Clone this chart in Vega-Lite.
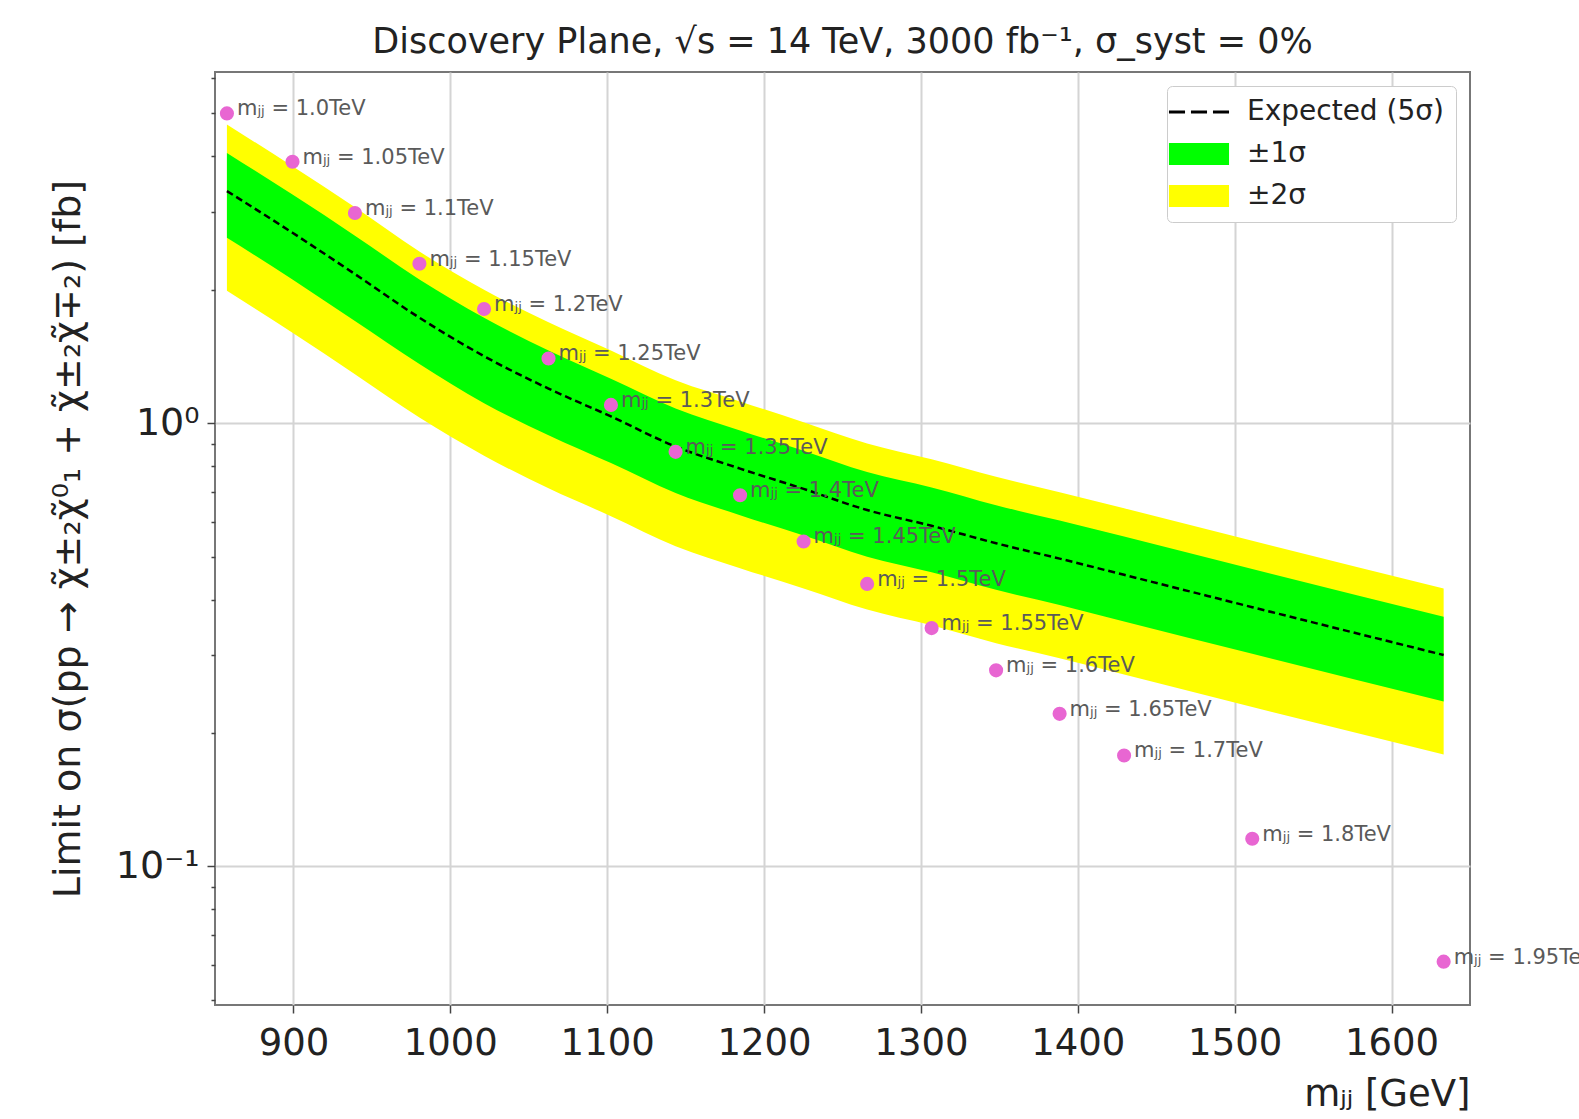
{
  "$schema": "https://vega.github.io/schema/vega-lite/v6.json",
  "autosize": {"type": "none"},
  "padding": {"left": 215, "top": 72, "right": 109, "bottom": 114},
  "width": 1255,
  "height": 933,
  "background": "white",
  "title": {
    "text": "Discovery Plane, √s = 14 TeV, 3000 fb⁻¹, σ_syst = 0%",
    "fontSize": 35,
    "fontWeight": "normal",
    "font": "DejaVu Sans",
    "color": "#222",
    "offset": 12
  },
  "config": {
    "font": "DejaVu Sans",
    "view": {"stroke": "#777", "strokeWidth": 2},
    "axis": {
      "labelFont": "DejaVu Sans",
      "titleFont": "DejaVu Sans",
      "labelColor": "#222",
      "titleColor": "#222",
      "titleFontWeight": "normal",
      "domain": false,
      "tickColor": "#444",
      "tickWidth": 1.5,
      "gridColor": "#d4d4d4",
      "gridWidth": 2
    }
  },
  "datasets": {
    "band": [
      {"x": 857.6, "yt": 4.72, "gt": 4.07, "line": 3.34, "gb": 2.62, "yb": 1.99},
      {"x": 899.4, "yt": 3.80, "gt": 3.28, "line": 2.69, "gb": 2.11, "yb": 1.60},
      {"x": 939.2, "yt": 3.07, "gt": 2.65, "line": 2.17, "gb": 1.70, "yb": 1.29},
      {"x": 980.3, "yt": 2.44, "gt": 2.11, "line": 1.73, "gb": 1.36, "yb": 1.03},
      {"x": 1021.5, "yt": 2.00, "gt": 1.73, "line": 1.417, "gb": 1.11, "yb": 0.845},
      {"x": 1062.6, "yt": 1.69, "gt": 1.46, "line": 1.197, "gb": 0.940, "yb": 0.713},
      {"x": 1102.4, "yt": 1.46, "gt": 1.26, "line": 1.036, "gb": 0.813, "yb": 0.617},
      {"x": 1143.6, "yt": 1.25, "gt": 1.08, "line": 0.886, "gb": 0.696, "yb": 0.528},
      {"x": 1184.7, "yt": 1.12, "gt": 0.963, "line": 0.790, "gb": 0.620, "yb": 0.471},
      {"x": 1225.2, "yt": 1.005, "gt": 0.867, "line": 0.711, "gb": 0.558, "yb": 0.424},
      {"x": 1265.7, "yt": 0.900, "gt": 0.776, "line": 0.637, "gb": 0.500, "yb": 0.380},
      {"x": 1306.8, "yt": 0.829, "gt": 0.716, "line": 0.587, "gb": 0.461, "yb": 0.350},
      {"x": 1347.9, "yt": 0.757, "gt": 0.653, "line": 0.536, "gb": 0.421, "yb": 0.319},
      {"x": 1388.4, "yt": 0.699, "gt": 0.603, "line": 0.495, "gb": 0.389, "yb": 0.295},
      {"x": 1429.5, "yt": 0.643, "gt": 0.555, "line": 0.455, "gb": 0.357, "yb": 0.271},
      {"x": 1511.2, "yt": 0.543, "gt": 0.469, "line": 0.3846, "gb": 0.302, "yb": 0.229},
      {"x": 1633.2, "yt": 0.424, "gt": 0.366, "line": 0.300, "gb": 0.2355, "yb": 0.179}
    ],
    "signal": [
      {"x": 857.6, "y": 5.00, "label": "mⱼⱼ = 1.0TeV"},
      {"x": 899.4, "y": 3.89, "label": "mⱼⱼ = 1.05TeV"},
      {"x": 939.2, "y": 2.98, "label": "mⱼⱼ = 1.1TeV"},
      {"x": 980.3, "y": 2.29, "label": "mⱼⱼ = 1.15TeV"},
      {"x": 1021.5, "y": 1.81, "label": "mⱼⱼ = 1.2TeV"},
      {"x": 1062.6, "y": 1.40, "label": "mⱼⱼ = 1.25TeV"},
      {"x": 1102.4, "y": 1.10, "label": "mⱼⱼ = 1.3TeV"},
      {"x": 1143.6, "y": 0.862, "label": "mⱼⱼ = 1.35TeV"},
      {"x": 1184.7, "y": 0.688, "label": "mⱼⱼ = 1.4TeV"},
      {"x": 1225.2, "y": 0.541, "label": "mⱼⱼ = 1.45TeV"},
      {"x": 1265.7, "y": 0.434, "label": "mⱼⱼ = 1.5TeV"},
      {"x": 1306.8, "y": 0.345, "label": "mⱼⱼ = 1.55TeV"},
      {"x": 1347.9, "y": 0.277, "label": "mⱼⱼ = 1.6TeV"},
      {"x": 1388.4, "y": 0.221, "label": "mⱼⱼ = 1.65TeV"},
      {"x": 1429.5, "y": 0.178, "label": "mⱼⱼ = 1.7TeV"},
      {"x": 1511.2, "y": 0.1155, "label": "mⱼⱼ = 1.8TeV"},
      {"x": 1633.2, "y": 0.0610, "label": "mⱼⱼ = 1.95TeV"}
    ],
    "legendItems": [
      {"series": "Expected (5σ)"},
      {"series": "±1σ"},
      {"series": "±2σ"}
    ]
  },
  "encoding": {
    "x": {
      "field": "x",
      "type": "quantitative",
      "scale": {"domain": [850, 1650], "nice": false, "zero": false},
      "axis": {
        "values": [900, 1000, 1100, 1200, 1300, 1400, 1500, 1600],
        "format": "d",
        "labelFontSize": 37,
        "labelPadding": 12,
        "tickSize": 8,
        "title": "mⱼⱼ [GeV]",
        "titleFontSize": 37,
        "titleAnchor": "end",
        "titlePadding": 15
      }
    }
  },
  "layer": [
    {
      "data": {"name": "band"},
      "mark": {"type": "area", "opacity": 1, "interpolate": "monotone", "color": "#ffff00"},
      "encoding": {
        "y": {
          "field": "yb",
          "type": "quantitative",
          "scale": {"type": "log", "domain": [0.0487, 6.2], "nice": false},
          "axis": {
            "values": [0.05, 0.06, 0.07, 0.08, 0.09, 0.1, 0.2, 0.3, 0.4, 0.5, 0.6, 0.7, 0.8, 0.9, 1, 2, 3, 4, 5, 6],
            "labelExpr": "datum.value == 1 ? '10⁰' : (datum.value == 0.1 ? '10⁻¹' : '')",
            "labelFontSize": 38,
            "labelPadding": 8,
            "tickSize": {"condition": {"test": "datum.value == 1 || datum.value == 0.1", "value": 8}, "value": 4},
            "gridOpacity": {"condition": {"test": "datum.value == 1 || datum.value == 0.1", "value": 1}, "value": 0},
            "title": "Limit on σ(pp → χ̃±₂χ̃⁰₁ + χ̃±₂χ̃∓₂) [fb]",
            "titleFontSize": 38,
            "titlePadding": 28
          }
        },
        "y2": {"field": "yt"}
      }
    },
    {
      "data": {"name": "band"},
      "mark": {"type": "area", "opacity": 1, "interpolate": "monotone", "color": "#00ff00"},
      "encoding": {
        "y": {"field": "gb", "type": "quantitative"},
        "y2": {"field": "gt"}
      }
    },
    {
      "data": {"name": "band"},
      "mark": {"type": "line", "strokeDash": [7, 4], "strokeWidth": 2.5, "interpolate": "monotone", "color": "#000000"},
      "encoding": {
        "y": {"field": "line", "type": "quantitative"}
      }
    },
    {
      "data": {"name": "signal"},
      "mark": {"type": "point", "filled": true, "shape": "circle", "size": 200, "color": "#e866d2", "opacity": 1},
      "encoding": {
        "y": {"field": "y", "type": "quantitative"}
      }
    },
    {
      "data": {"name": "signal"},
      "mark": {"type": "text", "align": "left", "baseline": "middle", "dx": 10, "dy": -4, "fontSize": 21, "color": "#5a5a5a"},
      "encoding": {
        "y": {"field": "y", "type": "quantitative"},
        "text": {"field": "label"}
      }
    },
    {
      "data": {"name": "legendItems"},
      "mark": {"type": "point", "filled": true, "opacity": 0},
      "encoding": {
        "y": {"field": "y", "type": "quantitative"},
        "color": {
          "field": "series",
          "type": "nominal",
          "scale": {"domain": ["Expected (5σ)", "±1σ", "±2σ"], "range": ["#000000", "#00ff00", "#ffff00"]},
          "legend": {
            "title": null,
            "orient": "top-right",
            "offset": 14,
            "padding": 12,
            "fillColor": "white",
            "strokeColor": "#cccccc",
            "cornerRadius": 5,
            "labelFontSize": 28,
            "labelColor": "#222",
            "labelLimit": 400,
            "labelOffset": 34,
            "rowPadding": 14,
            "symbolSize": 484,
            "symbolOffset": 6,
            "symbolOpacity": 1,
            "symbolStrokeWidth": 0
          }
        },
        "shape": {
          "field": "series",
          "type": "nominal",
          "scale": {
            "domain": ["Expected (5σ)", "±1σ", "±2σ"],
            "range": [
              "M-2.73,-0.14H-1.27V0.14H-2.73Z M-0.73,-0.14H0.73V0.14H-0.73Z M1.27,-0.14H2.73V0.14H1.27Z",
              "M-2.73,-1H2.73V1H-2.73Z",
              "M-2.73,-1H2.73V1H-2.73Z"
            ]
          },
          "legend": {
            "title": null,
            "orient": "top-right",
            "offset": 14,
            "padding": 12,
            "fillColor": "white",
            "strokeColor": "#cccccc",
            "cornerRadius": 5,
            "labelFontSize": 28,
            "labelColor": "#222",
            "labelLimit": 400,
            "labelOffset": 34,
            "rowPadding": 14,
            "symbolSize": 484,
            "symbolOffset": 6,
            "symbolOpacity": 1,
            "symbolStrokeWidth": 0
          }
        }
      }
    }
  ]
}
